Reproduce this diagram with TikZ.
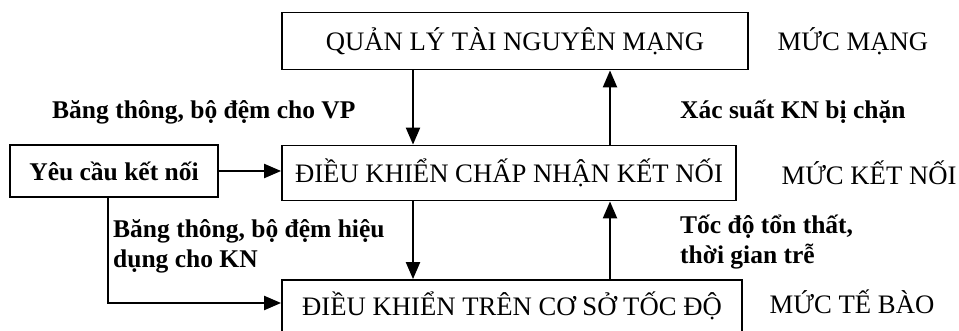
\documentclass[tikz,border=0pt]{standalone}
\usepackage{fontspec}
\setmainfont{Liberation Serif}
\usetikzlibrary{arrows.meta}
\begin{document}
\begin{tikzpicture}[x=1pt,y=-1pt,
  box/.style={draw,line width=1.8pt,inner sep=0pt,font=\fontsize{26.7}{30}\selectfont},
  lbl/.style={font=\bfseries\fontsize{25.5}{30}\selectfont,inner sep=0pt,anchor=west,align=left},
  lvl/.style={font=\fontsize{26.7}{30}\selectfont,inner sep=0pt},
  arr/.style={line width=2.2pt,-{Triangle[length=17pt,width=14pt]}}]
\useasboundingbox (0,0) rectangle (959,331);
\node[box,minimum width=466pt,minimum height=57pt] (b1) at (515,41) {QUẢN LÝ TÀI NGUYÊN MẠNG};
\node[box,minimum width=454pt,minimum height=55pt] (b2) at (509,173) {ĐIỀU KHIỂN CHẤP NHẬN KẾT NỐI};
\node[box,minimum width=460pt,minimum height=52pt] (b3) at (512,306) {ĐIỀU KHIỂN TRÊN CƠ SỞ TỐC ĐỘ};
\node[box,minimum width=208pt,minimum height=52pt,font=\bfseries\fontsize{25.5}{30}\selectfont] (yc) at (114,171) {Yêu cầu kết nối};
\node[lvl] (m1) at (853,41) {MỨC MẠNG};
\node[lvl] (m2) at (869,173) {MỨC KẾT NỐI};
\node[lvl] (m3) at (852,302) {MỨC TẾ BÀO};
\node[lbl] (l1) at (52,112) {Băng thông, bộ đệm cho VP};
\node[lbl] (l2) at (680,112) {Xác suất KN bị chặn};
\node[lbl] (l3) at (113,246) {Băng thông, bộ đệm hiệu\\dụng cho KN};
\node[lbl] (l4) at (680,242) {Tốc độ tổn thất,\\thời gian trễ};
\coordinate (dx) at (413,0);
\coordinate (ux) at (610,0);
\coordinate (cx) at (108,0);
\draw[arr] (b1.south -| dx) -- (b2.north -| dx);
\draw[arr] (b2.north -| ux) -- (b1.south -| ux);
\draw[arr] (b2.south -| dx) -- (b3.north -| dx);
\draw[arr] (b3.north -| ux) -- (b2.south -| ux);
\draw[arr] (yc.east) -- (yc.east -| b2.west);
\draw[arr] (yc.south -| cx) |- (b3.west |- 0,303);
\end{tikzpicture}
\end{document}
